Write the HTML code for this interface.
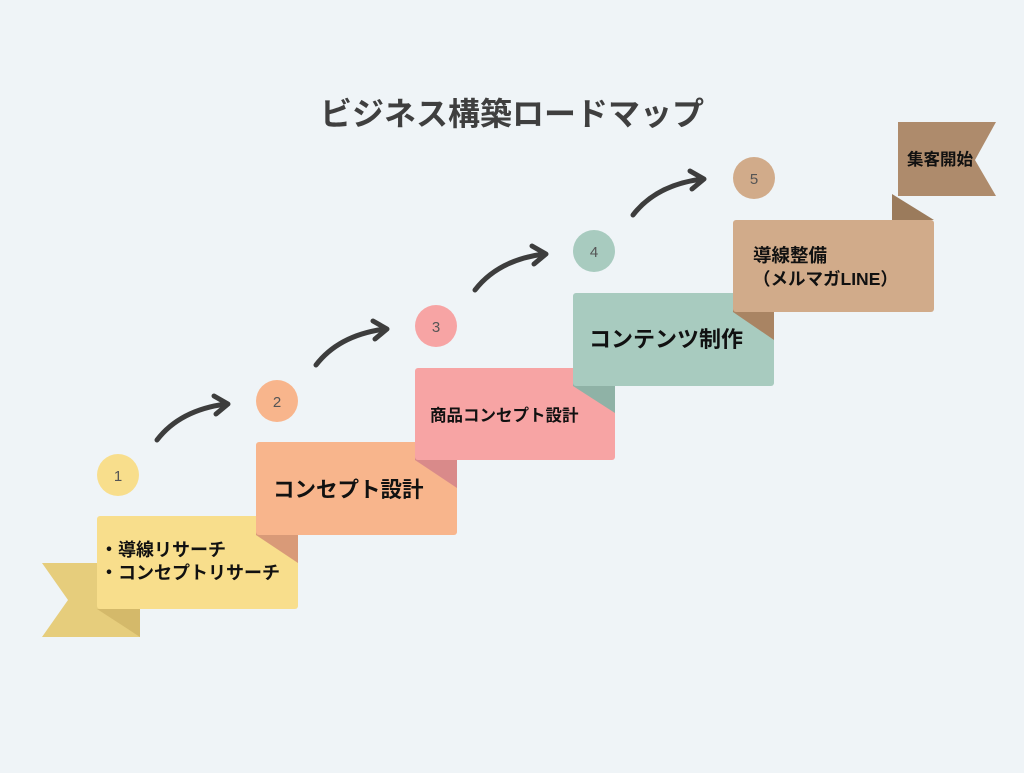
<!DOCTYPE html>
<html><head><meta charset="utf-8"><style>
body{margin:0;width:1024px;height:768px;background:#eff4f7;overflow:hidden}
svg text{font-family:"Liberation Sans","Noto Sans CJK JP",sans-serif;font-weight:bold;fill:#111}
</style></head><body>
<svg width="1024" height="768" viewBox="0 0 1024 768">
<text x="512" y="125" text-anchor="middle" font-size="32" style="fill:#3f3f3f">ビジネス構築ロードマップ</text>
<polygon points="42,563 140,563 140,637 42,637 68,600" fill="#e6cd7c"/>
<polygon points="97,609 140,609 140,637" fill="#d4b96a"/>
<polygon points="898,122 996,122 975,160 996,196 898,196" fill="#ae8b6c"/>
<polygon points="892,194 892,220 934,220" fill="#9b7b5c"/>
<polygon points="256,535 298,535 298,563" fill="#d99a78"/>
<polygon points="415,460 457,460 457,488" fill="#d98a8a"/>
<polygon points="573,386 615,386 615,413" fill="#8fb2a6"/>
<polygon points="733,312 774,312 774,340" fill="#a98463"/>
<rect x="97" y="516" width="201" height="93" rx="3" fill="#f8de8c"/>
<polygon points="256,516 298,516 298,563 256,535" fill="#d99a78"/>
<rect x="256" y="442" width="201" height="93" rx="3" fill="#f8b58c"/>
<polygon points="415,442 457,442 457,488 415,460" fill="#d98a8a"/>
<rect x="415" y="368" width="200" height="92" rx="3" fill="#f7a4a4"/>
<polygon points="573,368 615,368 615,413 573,386" fill="#8fb2a6"/>
<rect x="573" y="293" width="201" height="93" rx="3" fill="#a8cbbf"/>
<polygon points="733,293 774,293 774,340 733,312" fill="#a98463"/>
<rect x="733" y="220" width="201" height="92" rx="3" fill="#d1ab8a"/>
<g font-size="15" text-anchor="middle">
<circle cx="118" cy="475" r="21" fill="#f8de8c"/><text x="118" y="481" style="font-weight:normal;fill:#555">1</text>
<circle cx="277" cy="401" r="21" fill="#f8b58c"/><text x="277" y="407" style="font-weight:normal;fill:#555">2</text>
<circle cx="436" cy="326" r="21" fill="#f7a4a4"/><text x="436" y="332" style="font-weight:normal;fill:#555">3</text>
<circle cx="594" cy="251" r="21" fill="#a8cbbf"/><text x="594" y="257" style="font-weight:normal;fill:#555">4</text>
<circle cx="754" cy="178" r="21" fill="#d1ab8a"/><text x="754" y="184" style="font-weight:normal;fill:#555">5</text>
</g>
<g fill="none" stroke="#3d3d3d" stroke-width="5" stroke-linecap="round" stroke-linejoin="round">
<g id="ar"><path d="M157,440 Q180,410 226,404"/><path d="M214,396 L228,404 L216,414"/></g>
<use href="#ar" transform="translate(159,-75)"/>
<use href="#ar" transform="translate(318,-150)"/>
<use href="#ar" transform="translate(476,-225)"/>
</g>
<text x="100" y="556" font-size="18">・導線リサーチ</text>
<text x="100" y="579" font-size="18">・コンセプトリサーチ</text>
<text x="273" y="497" font-size="21.5">コンセプト設計</text>
<text x="430" y="421" font-size="16.5">商品コンセプト設計</text>
<text x="589" y="347" font-size="22">コンテンツ制作</text>
<text x="753" y="262" font-size="18.5">導線整備</text>
<text x="753" y="285" font-size="17.5">（メルマガLINE）</text>
<text x="907" y="165" font-size="16.5">集客開始</text>
</svg>
</body></html>
